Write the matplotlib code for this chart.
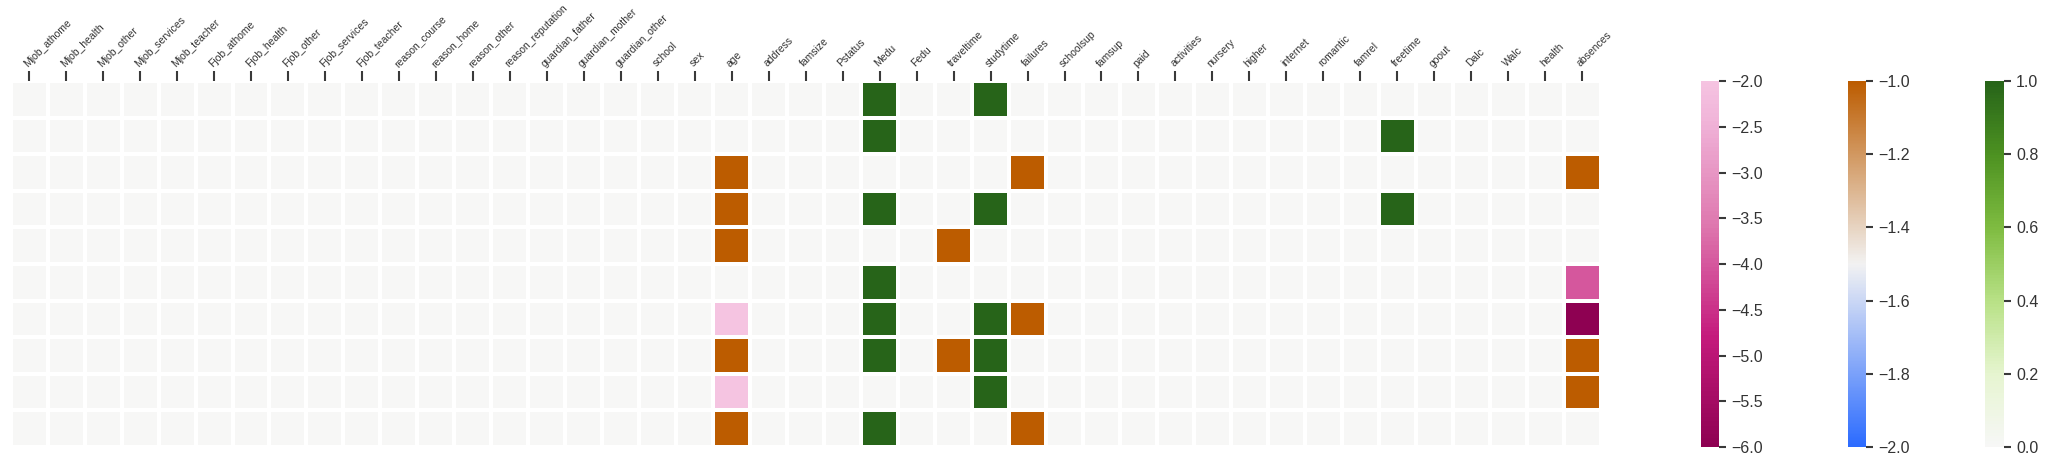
import numpy as np
import matplotlib
matplotlib.use("Agg")
import matplotlib.pyplot as plt
import seaborn as sns
from matplotlib.colors import LinearSegmentedColormap

features = ["Mjob_athome", "Mjob_health", "Mjob_other", "Mjob_services", "Mjob_teacher",
            "Fjob_athome", "Fjob_health", "Fjob_other", "Fjob_services", "Fjob_teacher",
            "reason_course", "reason_home", "reason_other", "reason_reputation",
            "guardian_father", "guardian_mother", "guardian_other", "school", "sex", "age",
            "address", "famsize", "Pstatus", "Medu", "Fedu", "traveltime", "studytime",
            "failures", "schoolsup", "famsup", "paid", "activities", "nursery", "higher",
            "internet", "romantic", "famrel", "freetime", "goout", "Dalc", "Walc", "health",
            "absences"]
n_rows = 10

# non-zero cells: row index, feature, value
cell_rows = [0, 0,
             1, 1,
             2, 2, 2,
             3, 3, 3, 3,
             4, 4,
             5, 5,
             6, 6, 6, 6, 6,
             7, 7, 7, 7, 7,
             8, 8, 8,
             9, 9, 9]
cell_feats = ["Medu", "studytime",
              "Medu", "freetime",
              "age", "failures", "absences",
              "age", "Medu", "studytime", "freetime",
              "age", "traveltime",
              "Medu", "absences",
              "age", "Medu", "studytime", "failures", "absences",
              "age", "Medu", "traveltime", "studytime", "absences",
              "age", "studytime", "absences",
              "age", "Medu", "failures"]
cell_vals = [1, 1,
             1, 1,
             -1, -1, -1,
             -1, 1, 1, 1,
             -1, -1,
             1, -4,
             -2, 1, 1, -1, -6,
             -1, 1, -1, 1, -1,
             -2, 1, -1,
             -1, 1, -1]

mat = np.zeros((n_rows, len(features)))
for r, f, v in zip(cell_rows, cell_feats, cell_vals):
    mat[r, features.index(f)] = v

sns.set_style("ticks")
plt.rcParams["font.family"] = ["Liberation Sans", "DejaVu Sans"]

piyg = plt.get_cmap("PiYG")
cmap_pos = LinearSegmentedColormap.from_list("pos", piyg(np.linspace(0.5, 1.0, 256)))
cmap_neg = LinearSegmentedColormap.from_list("neg", piyg(np.linspace(0.0, 1 / 3, 256)))
cmap_one = LinearSegmentedColormap.from_list("one", ["#2b6bff", "#f2f2f2", "#bc5c00"])

fig = plt.figure(figsize=(20.49, 4.69), dpi=100)
ax = fig.add_axes([0.0052, 0.047, 0.776, 0.78])
cax_neg = fig.add_axes([0.830, 0.047, 0.0088, 0.78])
cax_one = fig.add_axes([0.902, 0.047, 0.0088, 0.78])
cax_pos = fig.add_axes([0.969, 0.047, 0.0088, 0.78])

kw = dict(linewidths=1.5, linecolor="white", xticklabels=features, yticklabels=False, ax=ax)
sns.heatmap(mat, mask=mat < 0, cmap=cmap_pos, vmin=0, vmax=1, cbar_ax=cax_pos, **kw)
sns.heatmap(mat, mask=mat != -1, cmap=cmap_one, vmin=-2, vmax=-1, cbar_ax=cax_one, **kw)
sns.heatmap(mat, mask=mat > -2, cmap=cmap_neg, vmin=-6, vmax=-2, cbar_ax=cax_neg, **kw)

ax.xaxis.tick_top()
ax.tick_params(axis="x", length=7, width=1.5, color="#3a3a3a", pad=2, labelsize=7.5,
               labelcolor="#333333")
plt.setp(ax.get_xticklabels(), rotation=45, ha="left", va="bottom", rotation_mode="anchor")
ax.tick_params(axis="y", left=False)

for cax, ticks in [(cax_neg, np.arange(-6, -1.9, 0.5)),
                   (cax_one, np.arange(-2, -0.99, 0.2)),
                   (cax_pos, np.arange(0, 1.01, 0.2))]:
    cax.set_yticks(ticks)
    cax.set_yticklabels([f"{t:.1f}".replace("-", "\u2212") for t in ticks])
    cax.tick_params(length=5, width=1.5, color="#3a3a3a", labelsize=11.5, labelcolor="#333333", pad=4)

fig.savefig("out.png", dpi=100)
